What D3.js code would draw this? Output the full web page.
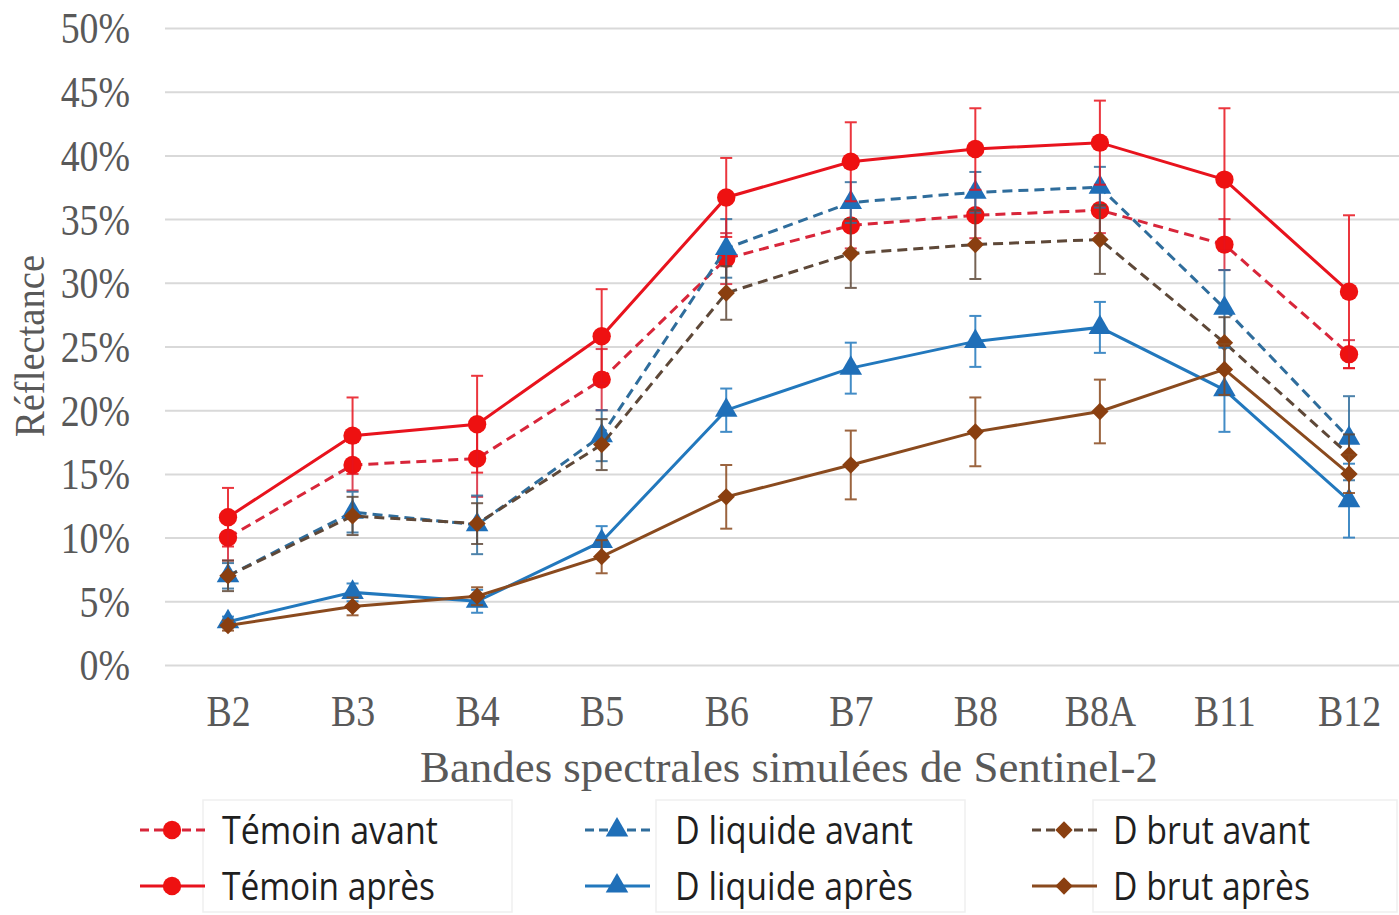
<!DOCTYPE html>
<html><head><meta charset="utf-8">
<script src="https://cdn.jsdelivr.net/npm/d3@7"></script>
<style>body{margin:0;background:#fff;} svg{display:block;}</style>
</head><body>
<svg id="c" width="1399" height="915"></svg>
<script>
const categories = ["B2","B3","B4","B5","B6","B7","B8","B8A","B11","B12"];
const yTicks = [0,5,10,15,20,25,30,35,40,45,50];

const temoinAvant    = [10.0, 15.7, 16.2, 22.4, 31.9, 34.5, 35.3, 35.7, 33.0, 24.4];
const temoinAvantErr = [ 1.8,  2.0,  3.0,  2.4,  2.0,  1.8,  1.8,  1.8,  2.0,  1.1];
const temoinApres    = [11.6, 18.0, 18.9, 25.8, 36.7, 39.5, 40.5, 41.0, 38.1, 29.3];
const temoinApresErr = [ 2.3,  3.0,  3.8,  3.7,  3.1,  3.1,  3.2,  3.3,  5.6,  6.0];
const liquideAvant    = [ 7.0, 12.0, 11.0, 18.0, 32.7, 36.3, 37.1, 37.5, 28.0, 17.8];
const liquideAvantErr = [ 1.0,  1.6,  2.3,  2.0,  2.3,  1.6,  1.6,  1.6,  3.0,  3.3];
const liquideApres    = [ 3.4,  5.7,  5.0,  9.7, 20.0, 23.3, 25.4, 26.5, 21.6, 12.9];
const liquideApresErr = [ 0.4,  0.7,  0.9,  1.2,  1.7,  2.0,  2.0,  2.0,  3.3,  2.9];
const brutAvant    = [ 7.0, 11.7, 11.1, 17.3, 29.2, 32.3, 33.0, 33.4, 25.3, 16.5];
const brutAvantErr = [ 1.2,  1.5,  1.6,  2.0,  2.1,  2.7,  2.7,  2.7,  2.0,  1.6];
const brutApres    = [ 3.1,  4.6,  5.4,  8.5, 13.2, 15.7, 18.3, 19.9, 23.2, 15.0];
const brutApresErr = [ 0.4,  0.7,  0.7,  1.3,  2.5,  2.7,  2.7,  2.5,  2.0,  1.5];

const series = [
  {name:"Témoin avant",    values:temoinAvant,  err:temoinAvantErr,  line:"#d8263a", mark:"#ee1111", dash:true,  sym:"circle"},
  {name:"D liquide avant", values:liquideAvant, err:liquideAvantErr, line:"#2f6d9c", mark:"#1f6fb8", dash:true,  sym:"triangle"},
  {name:"D brut avant",    values:brutAvant,    err:brutAvantErr,    line:"#5e4838", mark:"#8a3f10", dash:true,  sym:"diamond"},
  {name:"Témoin après",    values:temoinApres,  err:temoinApresErr,  line:"#e8131d", mark:"#ee1111", dash:false, sym:"circle"},
  {name:"D liquide après", values:liquideApres, err:liquideApresErr, line:"#2278bd", mark:"#1f6fb8", dash:false, sym:"triangle"},
  {name:"D brut après",    values:brutApres,    err:brutApresErr,    line:"#8a4a1e", mark:"#8a3f10", dash:false, sym:"diamond"}
];

const svg = d3.select("#c");
const x = d3.scalePoint().domain(categories).range([228, 1349]);
const y = d3.scaleLinear().domain([0,50]).range([665, 28]);
const plotLeft = 165, plotRight = 1399;

function fitText(sel, sx){
  sel.each(function(){
    const len = this.getComputedTextLength();
    d3.select(this).attr("textLength", len*sx).attr("lengthAdjust","spacingAndGlyphs");
  });
}

// y axis with gridlines
const yAxis = svg.append("g").attr("transform", `translate(${plotLeft},0)`)
  .call(d3.axisLeft(y).tickValues(yTicks).tickFormat(d => d + "%")
    .tickSize(-(plotRight-plotLeft)).tickPadding(35));
yAxis.select(".domain").remove();
yAxis.selectAll("line").attr("stroke","#d9d9d9").attr("stroke-width",2);
yAxis.selectAll("text").attr("fill","#595959")
  .attr("font-family","'Liberation Serif', 'Times New Roman', serif")
  .attr("font-size",44).attr("dy","0.34em").call(fitText, 0.86);

// x axis
const xAxis = svg.append("g").attr("transform", `translate(0,665)`)
  .call(d3.axisBottom(x).tickSize(0).tickPadding(0));
xAxis.select(".domain").remove();
xAxis.selectAll("text").attr("fill","#595959").attr("y",61).attr("dy","0")
  .attr("font-family","'Liberation Serif', 'Times New Roman', serif")
  .attr("font-size",44).call(fitText, 0.86);

// axis titles
svg.append("text").attr("x", 789).attr("y", 782).attr("text-anchor","middle")
  .attr("fill","#595959").attr("font-family","'Liberation Serif', serif").attr("font-size",45)
  .text("Bandes spectrales simulées de Sentinel-2").attr("textLength",738).attr("lengthAdjust","spacingAndGlyphs");
svg.append("text").attr("transform","translate(44,346) rotate(-90)").attr("text-anchor","middle")
  .attr("fill","#595959").attr("font-family","'Liberation Serif', serif").attr("font-size",42)
  .text("Réflectance").attr("textLength",182).attr("lengthAdjust","spacingAndGlyphs");

function symPath(t){
  if(t==="circle") return d3.symbol(d3.symbolCircle, 265)();
  if(t==="triangle") return d3.symbol(d3.symbolTriangle, 220)();
  return d3.symbol(d3.symbolSquare, 150)();
}
function symRot(t){ return t==="diamond" ? " rotate(45)" : ""; }

const line = d3.line().x((d,i)=>x(categories[i])).y(d=>y(d));

series.forEach(s=>{
  const g = svg.append("g");
  // error bars
  const eb = g.append("g").attr("stroke", s.line).attr("stroke-width",2).attr("opacity",0.85);
  s.values.forEach((v,i)=>{
    const cx = x(categories[i]), y1 = y(v + s.err[i]), y2 = y(v - s.err[i]);
    eb.append("line").attr("x1",cx).attr("x2",cx).attr("y1",y1).attr("y2",y2);
    eb.append("line").attr("x1",cx-6).attr("x2",cx+6).attr("y1",y1).attr("y2",y1);
    eb.append("line").attr("x1",cx-6).attr("x2",cx+6).attr("y1",y2).attr("y2",y2);
  });
  g.append("path").attr("d", line(s.values)).attr("fill","none")
    .attr("stroke", s.line).attr("stroke-width",3)
    .attr("stroke-dasharray", s.dash ? "10,6" : null);
  g.selectAll(".m").data(s.values).enter().append("path")
    .attr("d", symPath(s.sym))
    .attr("transform",(d,i)=>`translate(${x(categories[i])},${y(d)})${symRot(s.sym)}`)
    .attr("fill", s.mark);
});

// legend
const legCols = [140, 585, 1032];
const legText = [222, 675, 1113];
const legBoxes = [[203,512],[656,965],[1093,1397]];
legBoxes.forEach(b=>{
  svg.append("rect").attr("x",b[0]).attr("y",800).attr("width",b[1]-b[0]).attr("height",112)
    .attr("fill","none").attr("stroke","#efefef").attr("stroke-width",1.5);
});
const textWidths = {"Témoin avant":216,"Témoin après":213,"D liquide avant":238,"D liquide après":238,"D brut avant":197,"D brut après":197};
series.forEach((s,k)=>{
  const col = k % 3, row = Math.floor(k/3);
  const ly = row === 0 ? 830 : 886;
  const x0 = legCols[col], x1 = x0 + 65, xm = x0 + 32;
  const g = svg.append("g");
  g.append("line").attr("x1",x0).attr("x2",x1).attr("y1",ly).attr("y2",ly)
    .attr("stroke",s.line).attr("stroke-width",3).attr("stroke-dasharray", s.dash ? "9,5" : null);
  g.append("path").attr("d", symPath(s.sym)).attr("transform",`translate(${xm},${ly})${symRot(s.sym)}`).attr("fill",s.mark);
  g.append("text").attr("x",legText[col]).attr("y",ly+14).attr("fill","#1f1f1f")
    .attr("font-family","'Open Sans', 'Liberation Sans', sans-serif").attr("font-size",38)
    .text(s.name).attr("textLength",textWidths[s.name]).attr("lengthAdjust","spacingAndGlyphs");
});
</script>
</body></html>
